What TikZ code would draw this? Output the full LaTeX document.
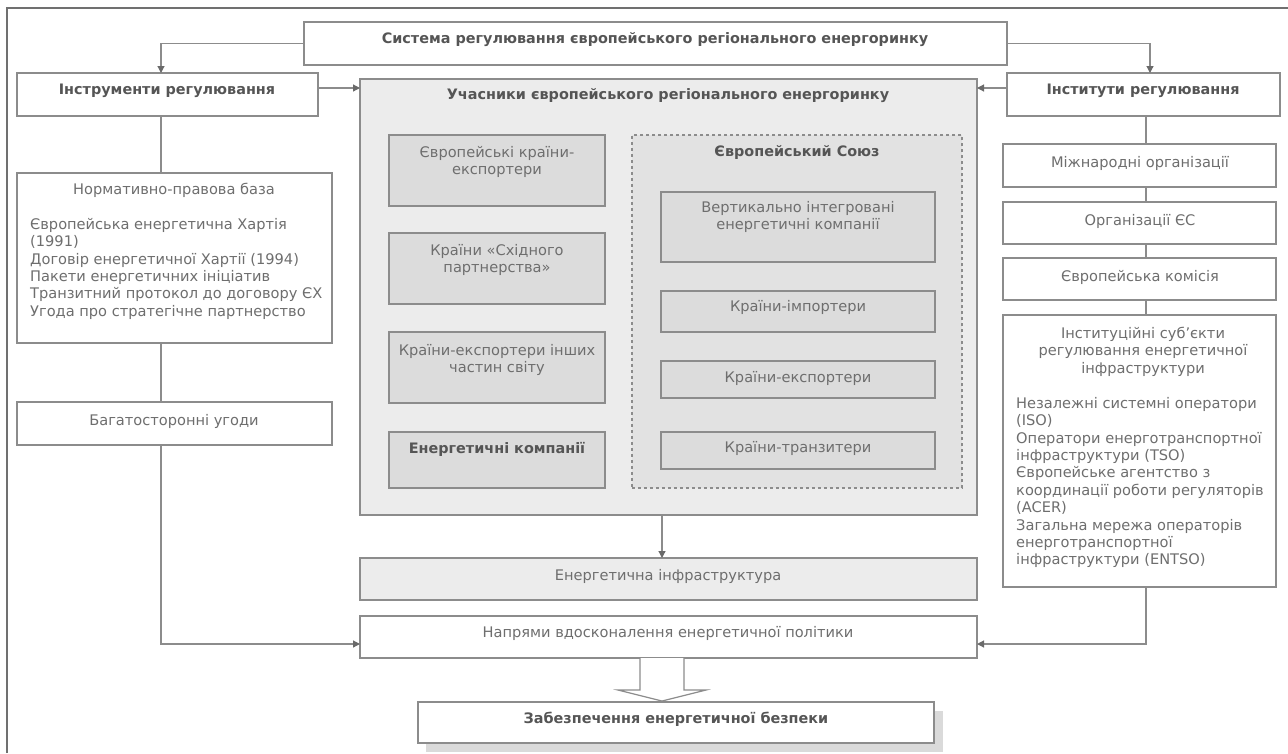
\documentclass[tikz,border=0pt]{standalone}
\usepackage{fontspec}
\setmainfont{DejaVu Sans}
\usetikzlibrary{arrows.meta,calc}
\definecolor{ln}{HTML}{8C8C8C}
\definecolor{tipc}{HTML}{6A6A6A}
\definecolor{frm}{HTML}{707070}
\definecolor{tx}{HTML}{6E6E6E}
\definecolor{tb}{HTML}{555555}
\definecolor{gA}{HTML}{ECECEC}
\definecolor{gB}{HTML}{DCDCDC}
\definecolor{gC}{HTML}{E2E2E2}
\definecolor{shd}{HTML}{DADADA}
\newcommand\fs{\fontsize{14.6}{17.4}\selectfont}
\newcommand\bfs{\fontsize{14.4}{17.4}\selectfont\bfseries}
\tikzset{
  every node/.style={font=\fs},
  box/.style={draw=ln, line width=1.2pt, fill=white, inner sep=0pt, outer sep=0pt, anchor=north west},
  txt/.style={text=tx, inner sep=0pt},
  btxt/.style={text=tb, inner sep=0pt, font=\bfs},
  conn/.style={draw=ln, line width=1.2pt},
  arr/.style={draw=ln, line width=1.2pt, -{Triangle[length=7pt,width=7pt,color=tipc]}},
  hollow/.style={draw=ln, line width=1.2pt, fill=white},
  frame/.style={draw=frm, line width=2.5pt}
}
\begin{document}
\begin{tikzpicture}[x=1pt,y=-1pt]
\useasboundingbox (0,0) rectangle (1288,753);
\draw[frame] (7,753) -- (7,8) -- (1288,8);

% top row
\node[box, minimum width=703pt, minimum height=43pt] (top) at (304,22) {};
\node[btxt] (topT) at (655,40) {Система регулювання європейського регіонального енергоринку};
\node[box, minimum width=301pt, minimum height=43pt] (instr) at (17,73) {};
\node[btxt] (instrT) at (167,91) {Інструменти регулювання};
\node[box, minimum width=273pt, minimum height=43pt] (inst) at (1007,73) {};
\node[btxt] (instT) at (1143,91) {Інститути регулювання};

% participants
\node[box, fill=gA, minimum width=617pt, minimum height=436pt] (part) at (360,79) {};
\node[btxt] (partT) at (668,96) {Учасники європейського регіонального енергоринку};

\node[box, fill=gB, minimum width=216pt, minimum height=71pt] (c1) at (389,135) {};
\node[txt, align=center, anchor=north] (c1T) at (497,146) {Європейські країни-\\експортери};
\node[box, fill=gB, minimum width=216pt, minimum height=71pt] (c2) at (389,233) {};
\node[txt, align=center, anchor=north] (c2T) at (497,244) {Країни «Східного\\партнерства»};
\node[box, fill=gB, minimum width=216pt, minimum height=71pt] (c3) at (389,332) {};
\node[txt, align=center, anchor=north] (c3T) at (497,344) {Країни-експортери інших\\частин світу};
\node[box, fill=gB, minimum width=216pt, minimum height=56pt] (c4) at (389,432) {};
\node[btxt] (c4T) at (497,449) {Енергетичні компанії};

\node[box, dashed, fill=gC, minimum width=330pt, minimum height=353pt] (eu) at (632,135) {};
\node[btxt] (euT) at (797,152) {Європейський Союз};
\node[box, fill=gB, minimum width=274pt, minimum height=70pt] (v) at (661,192) {};
\node[txt, align=center, anchor=north] (vT) at (798,201) {Вертикально інтегровані\\енергетичні компанії};
\node[box, fill=gB, minimum width=274pt, minimum height=41pt] (imp) at (661,291) {};
\node[txt] (impT) at (798,307) {Країни-імпортери};
\node[box, fill=gB, minimum width=274pt, minimum height=37pt] (exp) at (661,361) {};
\node[txt] (expT) at (798,378) {Країни-експортери};
\node[box, fill=gB, minimum width=274pt, minimum height=37pt] (tr) at (661,432) {};
\node[txt] (trT) at (798,448) {Країни-транзитери};

% left column
\node[box, minimum width=315pt, minimum height=170pt] (norm) at (17,173) {};
\node[txt] (normT) at (174,190) {Нормативно-правова база};
\node[txt, align=left, anchor=north west] (normL) at (30,218) {Європейська енергетична Хартія\\(1991)\\Договір енергетичної Хартії (1994)\\Пакети енергетичних ініціатив\\Транзитний протокол до договору ЄХ\\Угода про стратегічне партнерство};
\node[box, minimum width=315pt, minimum height=43pt] (bag) at (17,402) {};
\node[txt] (bagT) at (174,421) {Багатосторонні угоди};

% right column
\node[box, minimum width=273pt, minimum height=43pt] (miz) at (1003,144) {};
\node[txt] (mizT) at (1140,163) {Міжнародні організації};
\node[box, minimum width=273pt, minimum height=42pt] (org) at (1003,202) {};
\node[txt] (orgT) at (1140,221) {Організації ЄС};
\node[box, minimum width=273pt, minimum height=42pt] (kom) at (1003,258) {};
\node[txt] (komT) at (1140,277) {Європейська комісія};
\node[box, minimum width=273pt, minimum height=272pt] (inst2) at (1003,315) {};
\node[txt, align=center, anchor=north] (inst2T) at (1143,327) {Інституційні суб’єкти\\регулювання енергетичної\\інфраструктури};
\node[txt, align=left, anchor=north west] (inst2L) at (1016,397) {Незалежні системні оператори\\(ISO)\\Оператори енерготранспортної\\інфраструктури (TSO)\\Європейське агентство з\\координації роботи регуляторів\\(ACER)\\Загальна мережа операторів\\енерготранспортної\\інфраструктури (ENTSO)};

% bottom
\node[box, fill=gA, minimum width=617pt, minimum height=42pt] (infra) at (360,558) {};
\node[txt] (infraT) at (668,576) {Енергетична інфраструктура};
\node[box, minimum width=617pt, minimum height=42pt] (napr) at (360,616) {};
\node[txt] (naprT) at (668,633) {Напрями вдосконалення енергетичної політики};
\fill[shd] (426,711) rectangle (943,752);
\node[box, minimum width=516pt, minimum height=41pt] (zab) at (418,702) {};
\node[btxt] (zabT) at (676,719) {Забезпечення енергетичної безпеки};

% connectors
\draw[arr] (top.west) -| ($(instr.north west)+(144,0)$);
\draw[arr] (top.east) -| ($(inst.north west)+(143,0)$);
\draw[arr] ($(instr.north east)+(0,15)$) -- ($(part.north west)+(0,9)$);
\draw[arr] ($(inst.north west)+(0,15)$) -- ($(part.north east)+(0,9)$);
\draw[conn] ($(instr.south west)+(144,0)$) -- ($(norm.north west)+(144,0)$);
\draw[conn] ($(norm.south west)+(144,0)$) -- ($(bag.north west)+(144,0)$);
\draw[arr] ($(bag.south west)+(144,0)$) |- ($(napr.south west)+(0,-14)$);
\draw[conn] ($(inst.south west)+(139,0)$) -- ($(miz.north west)+(143,0)$);
\draw[conn] ($(miz.south west)+(143,0)$) -- ($(org.north west)+(143,0)$);
\draw[conn] ($(org.south west)+(143,0)$) -- ($(kom.north west)+(143,0)$);
\draw[conn] ($(kom.south west)+(143,0)$) -- ($(inst2.north west)+(143,0)$);
\draw[arr] ($(inst2.south west)+(143,0)$) |- ($(napr.south east)+(0,-14)$);
\draw[arr] ($(part.south west)+(302,0)$) -- ($(infra.north west)+(302,0)$);
\coordinate (bA) at ($(napr.south west)+(302,0)$);
\draw[hollow] ($(bA)+(-22,0)$) -- ++(0,32) -- ++(-22,0) -- ++(44,11) -- ++(44,-11) -- ++(-22,0) -- ++(0,-32);
\end{tikzpicture}
\end{document}
